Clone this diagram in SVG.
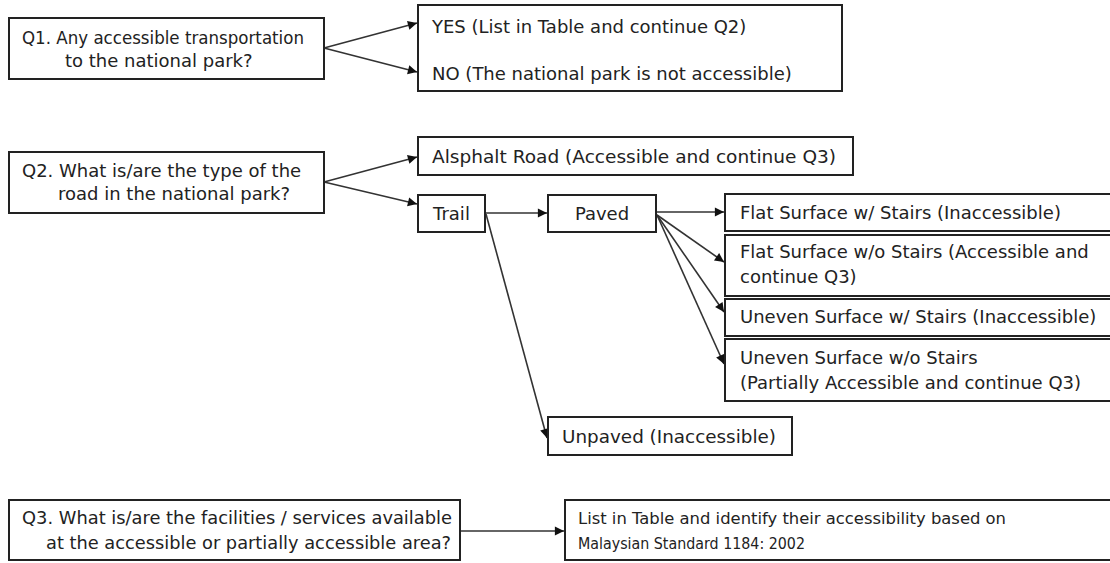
<svg xmlns="http://www.w3.org/2000/svg" width="1110" height="563" viewBox="0 0 1110 563">
<style>
.box{fill:#fff;stroke:#222;stroke-width:2}
.t{font-family:"DejaVu Sans",Verdana,sans-serif;font-size:18px;fill:#222}
.s{font-size:16.5px}
.c{fill:none;stroke:#333;stroke-width:1.6}
</style>
<defs>
<marker id="ah" viewBox="0 0 10 10" refX="10" refY="5" markerWidth="7" markerHeight="7" markerUnits="userSpaceOnUse" orient="auto" overflow="visible">
<path d="M0,0 L10,5 L0,10 z" fill="#111" transform="scale(1.3)" transform-origin="10 5"/>
</marker>
</defs>
<rect width="1110" height="563" fill="#fff"/>
<g id="connectors">
<path class="c" d="M324,48 L417,23" marker-end="url(#ah)"/>
<path class="c" d="M324,48 L417,72" marker-end="url(#ah)"/>
<path class="c" d="M324,182 L417,157" marker-end="url(#ah)"/>
<path class="c" d="M324,182 L417,204" marker-end="url(#ah)"/>
<path class="c" d="M485,213 L547,213" marker-end="url(#ah)"/>
<path class="c" d="M486,214 L547,438" marker-end="url(#ah)"/>
<path class="c" d="M656,212 L724,212" marker-end="url(#ah)"/>
<path class="c" d="M657,215 L724,262" marker-end="url(#ah)"/>
<path class="c" d="M657,215 L724,312" marker-end="url(#ah)"/>
<path class="c" d="M657,215 L724,364" marker-end="url(#ah)"/>
<path class="c" d="M460,531 L564,531" marker-end="url(#ah)"/>
</g>
<g id="q1">
<rect class="box" x="9" y="18" width="315" height="61"/>
<text class="t" x="22" y="44" textLength="282" lengthAdjust="spacingAndGlyphs">Q1. Any accessible transportation</text>
<text class="t" x="65" y="67">to the national park?</text>
</g>
<g id="yesno">
<rect class="box" x="418" y="5" width="424" height="86"/>
<text class="t" x="432" y="33">YES (List in Table and continue Q2)</text>
<text class="t" x="432" y="80">NO (The national park is not accessible)</text>
</g>
<g id="q2">
<rect class="box" x="9" y="152" width="315" height="61"/>
<text class="t" x="22" y="177">Q2. What is/are the type of the</text>
<text class="t" x="58" y="200">road in the national park?</text>
</g>
<g id="asphalt">
<rect class="box" x="418" y="137" width="435" height="38"/>
<text class="t" x="432" y="163" textLength="404" lengthAdjust="spacingAndGlyphs">Alsphalt Road (Accessible and continue Q3)</text>
</g>
<g id="trail">
<rect class="box" x="418" y="195" width="67" height="37"/>
<text class="t" x="451.5" y="220" text-anchor="middle">Trail</text>
</g>
<g id="paved">
<rect class="box" x="548" y="195" width="108" height="37"/>
<text class="t" x="602" y="220" text-anchor="middle">Paved</text>
</g>
<g id="flat-stairs">
<rect class="box" x="725" y="194" width="390" height="37"/>
<text class="t" x="740" y="219">Flat Surface w/ Stairs (Inaccessible)</text>
</g>
<g id="flat-nostairs">
<rect class="box" x="725" y="235" width="390" height="61"/>
<text class="t" x="740" y="258">Flat Surface w/o Stairs (Accessible and</text>
<text class="t" x="740" y="283">continue Q3)</text>
</g>
<g id="uneven-stairs">
<rect class="box" x="725" y="299" width="390" height="37"/>
<text class="t" x="740" y="323">Uneven Surface w/ Stairs (Inaccessible)</text>
</g>
<g id="uneven-nostairs">
<rect class="box" x="725" y="339" width="390" height="62"/>
<text class="t" x="740" y="364">Uneven Surface w/o Stairs</text>
<text class="t" x="740" y="389">(Partially Accessible and continue Q3)</text>
</g>
<g id="unpaved">
<rect class="box" x="548" y="417" width="244" height="38"/>
<text class="t" x="562" y="443" textLength="214" lengthAdjust="spacingAndGlyphs">Unpaved (Inaccessible)</text>
</g>
<g id="q3">
<rect class="box" x="9" y="500" width="451" height="60"/>
<text class="t" x="22" y="524" textLength="430" lengthAdjust="spacingAndGlyphs">Q3. What is/are the facilities / services available</text>
<text class="t" x="46" y="549" textLength="405" lengthAdjust="spacingAndGlyphs">at the accessible or partially accessible area?</text>
</g>
<g id="list">
<rect class="box" x="565" y="500" width="550" height="60"/>
<text class="t s" x="578" y="524" textLength="428" lengthAdjust="spacingAndGlyphs">List in Table and identify their accessibility based on</text>
<text class="t s" x="578" y="549" textLength="227" lengthAdjust="spacingAndGlyphs">Malaysian Standard 1184: 2002</text>
</g>
</svg>
